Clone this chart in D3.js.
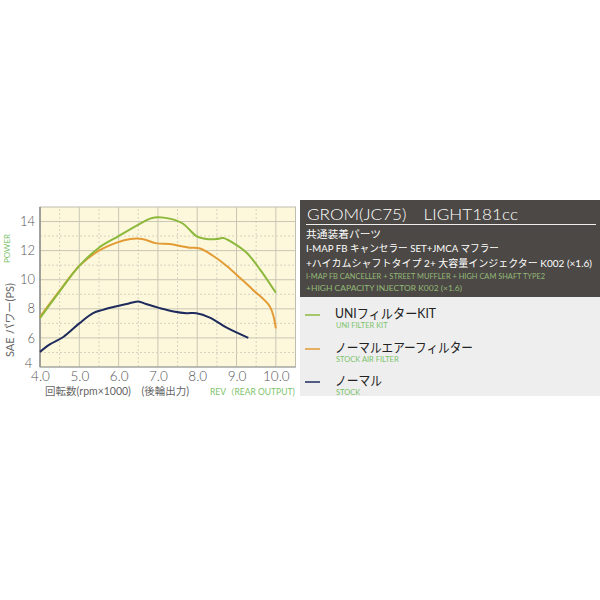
<!DOCTYPE html>
<html><head><meta charset="utf-8">
<script src="https://cdn.jsdelivr.net/npm/d3@7"></script>
<style>body{margin:0;background:#fff}svg{display:block}</style>
</head><body>
<script>
// ---- data ----
const uniRpm   = [4.0,4.5,5.0,5.5,6.0,6.45,6.8,6.97,7.3,7.64,7.98,8.24,8.5,8.66,8.9,9.25,9.6,10.0];
const uniPs    = [7.36,9.2,10.95,12.2,13.0,13.7,14.2,14.3,14.2,13.85,13.0,12.8,12.8,12.87,12.55,11.87,10.7,9.1];
const airRpm   = [4.0,4.5,5.0,5.5,5.95,6.3,6.6,6.97,7.3,7.6,7.8,8.07,8.4,8.75,9.1,9.42,9.85,10.0];
const airPs    = [7.45,9.25,10.95,12.0,12.55,12.8,12.8,12.5,12.45,12.3,12.2,12.15,11.65,10.95,10.1,9.3,8.15,6.66];
const stockRpm = [4.0,4.25,4.6,5.0,5.35,5.6,5.95,6.2,6.5,6.7,7.05,7.4,7.73,7.98,8.32,8.75,9.3];
const stockPs  = [5.04,5.55,6.08,7.0,7.7,7.93,8.17,8.33,8.51,8.33,8.05,7.82,7.7,7.7,7.4,6.7,6.0];
const xTicks = [4,5,6,7,8,9,10];
const yTicks = [4,6,8,10,12,14];
const seriesNames = ["UNIフィルターKIT","ノーマルエアーフィルター","ノーマル"];
const seriesSub   = ["UNI FILTER KIT","STOCK AIR FILTER","STOCK"];
const seriesColors = ["#8cb83c","#e39b35","#1e2b5c"];
const titleText = "GROM(JC75)　LIGHT181cc";
const noteLines = ["共通装着パーツ","I-MAP FB キャンセラー SET+JMCA マフラー","+ハイカムシャフトタイプ 2+ 大容量インジェクター K002 (×1.6)"];
const noteEn = ["I-MAP FB CANCELLER + STREET MUFFLER + HIGH CAM SHAFT TYPE2","+HIGH CAPACITY INJECTOR K002 (×1.6)"];

const svg = d3.select("body").append("svg").attr("width",600).attr("height",600);
const font = "Lato, 'Noto Sans CJK JP', sans-serif";

const x = d3.scaleLinear().domain([4,10.5]).range([40,295.5]);
const y = d3.scaleLinear().domain([4,15]).range([367,207]);

// plot background
svg.append("rect").attr("x",x(4)).attr("y",y(15)).attr("width",x(10.5)-x(4)).attr("height",y(4)-y(15))
  .attr("fill","#fdf8dc").attr("stroke","#bdbdb0").attr("stroke-width",1);

// grid
const g = svg.append("g");
d3.range(4.5,10.5,0.5).forEach(v=>{
  const solid = Math.abs(v-Math.round(v))<1e-9;
  g.append("line").attr("x1",x(v)).attr("x2",x(v)).attr("y1",y(4)).attr("y2",y(15))
   .attr("stroke", solid?"#c9c6b4":"#d6d3c0").attr("stroke-width",1)
   .attr("stroke-dasharray", solid?null:"2,2");
});
d3.range(5,15,1).forEach(v=>{
  const solid = v%2===0;
  g.append("line").attr("x1",x(4)).attr("x2",x(10.5)).attr("y1",y(v)).attr("y2",y(v))
   .attr("stroke", solid?"#c9c6b4":"#d6d3c0").attr("stroke-width",1)
   .attr("stroke-dasharray", solid?null:"2,2");
});
// axes lines
svg.append("line").attr("x1",x(4)).attr("x2",x(4)).attr("y1",y(15)).attr("y2",y(4)).attr("stroke","#777").attr("stroke-width",1.2);
svg.append("line").attr("x1",x(4)).attr("x2",x(10.5)).attr("y1",y(4)).attr("y2",y(4)).attr("stroke","#999").attr("stroke-width",1);

// tick labels
const yAxis = d3.axisLeft(y).tickValues(yTicks).tickSize(0).tickPadding(5).tickFormat(d3.format("d"));
const ya = svg.append("g").attr("transform",`translate(${x(4)},0)`).call(yAxis);
ya.select(".domain").remove();
ya.selectAll("text").attr("font-family",font).attr("font-size",13).attr("fill","#555").attr("font-weight",300)
  .attr("dy", d=> d===4 ? "0.05em" : "0.32em").attr("dx", d=> d===4 ? "-0.2em" : 0);
const xAxis = d3.axisBottom(x).tickValues(xTicks).tickSize(0).tickPadding(4).tickFormat(d3.format(".1f"));
const xa = svg.append("g").attr("transform",`translate(0,${y(4)})`).call(xAxis);
xa.select(".domain").remove();
xa.selectAll("text").attr("font-family",font).attr("font-size",13.5).attr("fill","#555").attr("font-weight",300);

// axis titles
svg.append("text").attr("transform","translate(14,357) rotate(-90)").attr("font-family",font)
  .attr("font-size",11).attr("fill","#666").text("SAE パワー(PS)");
svg.append("text").attr("transform","translate(10,263) rotate(-90)").attr("font-family",font)
  .attr("font-size",8).attr("fill","#7cc36a").text("POWER");
svg.append("text").attr("x",45).attr("y",395).attr("font-family",font).attr("font-size",10.5)
  .attr("fill","#666").text("回転数(rpm×1000)　(後輪出力)");
svg.append("text").attr("x",210).attr("y",395).attr("font-family",font).attr("font-size",8.5)
  .attr("fill","#7cc36a").text("REV（REAR OUTPUT)");

// curves
const line = d3.line().x(d=>x(d[0])).y(d=>y(d[1])).curve(d3.curveCatmullRom.alpha(0.5));
const series = [d3.zip(uniRpm,uniPs), d3.zip(airRpm,airPs), d3.zip(stockRpm,stockPs)];
[1,0,2].forEach(i=>{
  svg.append("path").attr("d",line(series[i])).attr("fill","none")
    .attr("stroke",seriesColors[i]).attr("stroke-width",2);
});

// right dark panel
svg.append("rect").attr("x",300).attr("y",200).attr("width",300).attr("height",97).attr("fill","#4b4845");
svg.append("text").attr("x",307).attr("y",220).attr("font-family",font).attr("font-size",16).attr("font-weight",300)
  .attr("fill","#fff").attr("textLength",211).attr("lengthAdjust","spacingAndGlyphs").text(titleText);
svg.append("line").attr("x1",306).attr("x2",596).attr("y1",224.5).attr("y2",224.5).attr("stroke","#eee").attr("stroke-width",1);
const noteY = [238,252,267], noteW=[75,193,286];
noteLines.forEach((t,i)=>{
  svg.append("text").attr("x",306).attr("y",noteY[i]).attr("font-family",font).attr("font-size",10)
   .attr("fill","#fff").attr("textLength",noteW[i]).attr("lengthAdjust","spacingAndGlyphs").text(t);
});
const enY=[279,291], enW=[239,156];
noteEn.forEach((t,i)=>{
  svg.append("text").attr("x",306).attr("y",enY[i]).attr("font-family",font).attr("font-size",8)
   .attr("fill","#95b978").attr("textLength",enW[i]).attr("lengthAdjust","spacingAndGlyphs").text(t);
});

// legend panel
svg.append("rect").attr("x",300).attr("y",297).attr("width",300).attr("height",99).attr("fill","#eeeeee");
const legY=[318,352,385], legW=[101,138,47];
seriesNames.forEach((n,i)=>{
  svg.append("line").attr("x1",305).attr("x2",320).attr("y1",legY[i]-3).attr("y2",legY[i]-3)
    .attr("stroke",seriesColors[i]).attr("stroke-width",1.5);
  svg.append("text").attr("x",335).attr("y",legY[i]).attr("font-family",font).attr("font-size",13)
    .attr("fill","#222").attr("textLength",legW[i]).attr("lengthAdjust","spacingAndGlyphs").text(n);
  svg.append("text").attr("x",336).attr("y",legY[i]+10).attr("font-family",font).attr("font-size",7.5)
    .attr("fill","#7cc36a").text(seriesSub[i]);
});
</script>
</body></html>
